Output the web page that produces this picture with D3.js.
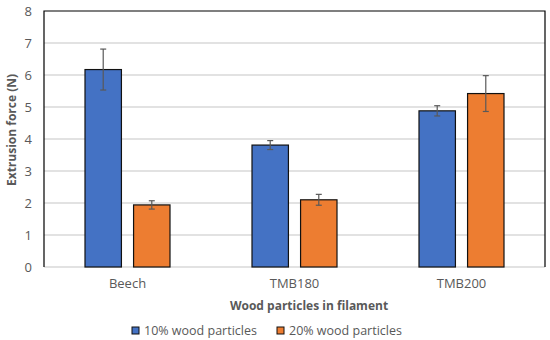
<!DOCTYPE html>
<html>
<head>
<meta charset="utf-8">
<script src="https://cdn.jsdelivr.net/npm/d3@7"></script>
<style>
body { margin: 0; background: #fff; }
text { font-family: "Open Sans", "Liberation Sans", sans-serif; }
</style>
</head>
<body>
<div id="chart"></div>
<script>
// data
var categories = ["Beech", "TMB180", "TMB200"];
var seriesNames = ["10% wood particles", "20% wood particles"];
var means10 = [6.17, 3.81, 4.88];
var errs10 = [0.64, 0.14, 0.16];
var means20 = [1.94, 2.1, 5.42];
var errs20 = [0.13, 0.17, 0.56];
var yTicks = [0, 1, 2, 3, 4, 5, 6, 7, 8];

var colors = ["#4472c4", "#ed7d31"];

var svgWidth = 550;
var svgHeight = 340;
var margin = { top: 11, right: 5, bottom: 73, left: 44 };
var width = svgWidth - margin.left - margin.right;
var height = svgHeight - margin.top - margin.bottom;

var svg = d3.select("#chart").append("svg")
    .attr("width", svgWidth)
    .attr("height", svgHeight);

var chartGroup = svg.append("g")
    .attr("transform", `translate(${margin.left}, ${margin.top})`);

var x0 = d3.scaleBand().domain(categories).range([0, width]);
var x1 = d3.scaleBand().domain(seriesNames).range([41, 126]).paddingInner(0.25);
var y = d3.scaleLinear().domain([0, 8]).range([height, 0]);

// gridlines
chartGroup.selectAll(".grid")
    .data(yTicks.filter(d => d > 0 && d < 8))
    .enter().append("line")
    .attr("x1", 0).attr("x2", width)
    .attr("y1", d => y(d)).attr("y2", d => y(d))
    .attr("stroke", "#d9d9d9").attr("stroke-width", 1.3);

// y axis labels
var leftAxis = d3.axisLeft(y).tickValues(yTicks).tickSize(0).tickPadding(12);
var yAxis = chartGroup.append("g").call(leftAxis);
yAxis.select(".domain").remove();
yAxis.selectAll("text").attr("fill", "#595959").style("font-size", "13px")
    .style("font-family", "'Open Sans', sans-serif");

// bottom axis line
chartGroup.append("line")
    .attr("x1", 0).attr("x2", width)
    .attr("y1", y(0)).attr("y2", y(0))
    .attr("stroke", "#d9d9d9").attr("stroke-width", 1.3);

// frame top, left, right
chartGroup.append("path")
    .attr("d", `M0,${height}V0H${width}V${height}`)
    .attr("fill", "none").attr("stroke", "#000").attr("stroke-width", 1.2);

// category labels
var bottomAxis = d3.axisBottom(x0).tickSize(0).tickPadding(12);
var xAxis = chartGroup.append("g")
    .attr("transform", `translate(0, ${height})`)
    .call(bottomAxis);
xAxis.select(".domain").remove();
xAxis.selectAll("text").attr("fill", "#595959").style("font-size", "13px")
    .style("font-family", "'Open Sans', sans-serif");

var rows = [];
categories.forEach(function(c, i) {
    rows.push({ cat: c, s: 0, v: means10[i], e: errs10[i] });
    rows.push({ cat: c, s: 1, v: means20[i], e: errs20[i] });
});

chartGroup.selectAll(".bar")
    .data(rows)
    .enter().append("rect")
    .attr("x", d => x0(d.cat) + x1(seriesNames[d.s]))
    .attr("width", x1.bandwidth())
    .attr("y", d => y(d.v))
    .attr("height", d => y(0) - y(d.v))
    .attr("fill", d => colors[d.s])
    .attr("stroke", "#111").attr("stroke-width", 1.2);

// error bars
var eb = chartGroup.selectAll(".err")
    .data(rows)
    .enter().append("g")
    .attr("transform", d => `translate(${x0(d.cat) + x1(seriesNames[d.s]) + x1.bandwidth() / 2}, 0)`);
eb.append("line")
    .attr("y1", d => y(d.v + d.e)).attr("y2", d => y(d.v - d.e))
    .attr("stroke", "#595959").attr("stroke-width", 1.2);
eb.append("line")
    .attr("x1", -3).attr("x2", 3)
    .attr("y1", d => y(d.v + d.e)).attr("y2", d => y(d.v + d.e))
    .attr("stroke", "#595959").attr("stroke-width", 1.2);
eb.append("line")
    .attr("x1", -3).attr("x2", 3)
    .attr("y1", d => y(d.v - d.e)).attr("y2", d => y(d.v - d.e))
    .attr("stroke", "#595959").attr("stroke-width", 1.2);

// axis titles
svg.append("text")
    .attr("x", 309).attr("y", 310)
    .attr("text-anchor", "middle")
    .attr("fill", "#595959")
    .style("font-size", "12px").style("font-weight", "bold")
    .text("Wood particles in filament");

svg.append("text")
    .attr("transform", "translate(16, 130) rotate(-90)")
    .attr("text-anchor", "middle")
    .attr("fill", "#595959")
    .style("font-size", "12px").style("font-weight", "bold")
    .text("Extrusion force (N)");

// legend
var legendX = [132, 277];
var legend = svg.selectAll(".legend")
    .data(seriesNames)
    .enter().append("g")
    .attr("transform", (d, i) => `translate(${legendX[i]}, 327)`);
legend.append("rect")
    .attr("width", 7).attr("height", 7)
    .attr("fill", (d, i) => colors[i])
    .attr("stroke", "#111").attr("stroke-width", 1);
legend.append("text")
    .attr("x", 12).attr("y", 8)
    .attr("fill", "#595959")
    .style("font-size", "12.5px")
    .text(d => d);
</script>
</body>
</html>
